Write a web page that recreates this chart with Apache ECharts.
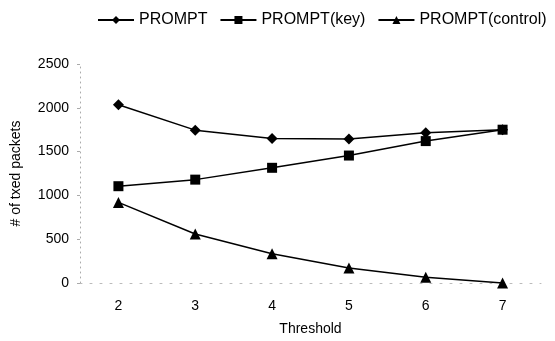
<!DOCTYPE html>
<html>
<head>
<meta charset="utf-8">
<script src="https://cdn.jsdelivr.net/npm/echarts@6/dist/echarts.min.js"></script>
<style>
  html, body { margin: 0; padding: 0; background: #fff; }
  #chart { width: 555px; height: 341px; }
</style>
</head>
<body>
<div id="chart"></div>
<script>
// thresholds on the x axis
const thresholds = ['2', '3', '4', '5', '6', '7'];

// # of txed packets per series
const prompt = [2035, 1745, 1650, 1645, 1715, 1750];
const promptKey = [1105, 1180, 1315, 1455, 1620, 1750];
const promptControl = [920, 560, 335, 170, 65, 0];

const seriesNames = ['PROMPT', 'PROMPT(key)', 'PROMPT(control)'];

const font = '"Liberation Sans", Arial, sans-serif';

const chart = echarts.init(document.getElementById('chart'));

function lineSeries(name, data, symbol, size) {
  return {
    name,
    type: 'line',
    data,
    symbol,
    symbolSize: size,
    clip: false,
    lineStyle: { color: '#000', width: 1.5 },
    itemStyle: { color: '#000' },
  };
}

chart.setOption({
  animation: false,
  backgroundColor: '#fff',
  textStyle: { fontFamily: font },
  legend: {
    top: 7,
    left: 92,
    itemWidth: 36,
    itemHeight: 10,
    itemGap: 12,
    textStyle: { fontFamily: font, fontSize: 16, color: '#000' },
    data: seriesNames,
  },
  grid: {
    left: 80,
    right: 14,
    top: 64,
    bottom: 57,
  },
  xAxis: {
    type: 'category',
    data: thresholds,
    boundaryGap: true,
    name: 'Threshold',
    nameLocation: 'middle',
    nameGap: 39,
    nameTextStyle: { fontFamily: font, fontSize: 14, color: '#000' },
    axisLine: { lineStyle: { color: '#bbb', type: [2, 8], width: 1 } },
    axisTick: { show: false },
    axisLabel: { fontFamily: font, fontSize: 14, color: '#000', margin: 16 },
  },
  yAxis: {
    type: 'value',
    min: 0,
    max: 2500,
    interval: 500,
    name: '# of txed packets',
    nameLocation: 'middle',
    nameGap: 57,
    nameTextStyle: { fontFamily: font, fontSize: 14, color: '#000' },
    axisLine: { show: true, lineStyle: { color: '#aaa', type: [1, 4], width: 1 } },
    axisTick: { show: true, length: 3, lineStyle: { color: '#aaa' } },
    splitLine: { show: false },
    axisLabel: {
      fontFamily: font,
      fontSize: 14,
      color: '#000',
      margin: 11,
      formatter: (v) => String(v),
    },
  },
  series: [
    lineSeries('PROMPT', prompt, 'diamond', 11),
    lineSeries('PROMPT(key)', promptKey, 'rect', 10),
    lineSeries('PROMPT(control)', promptControl, 'triangle', 11),
  ],
});
</script>
</body>
</html>
